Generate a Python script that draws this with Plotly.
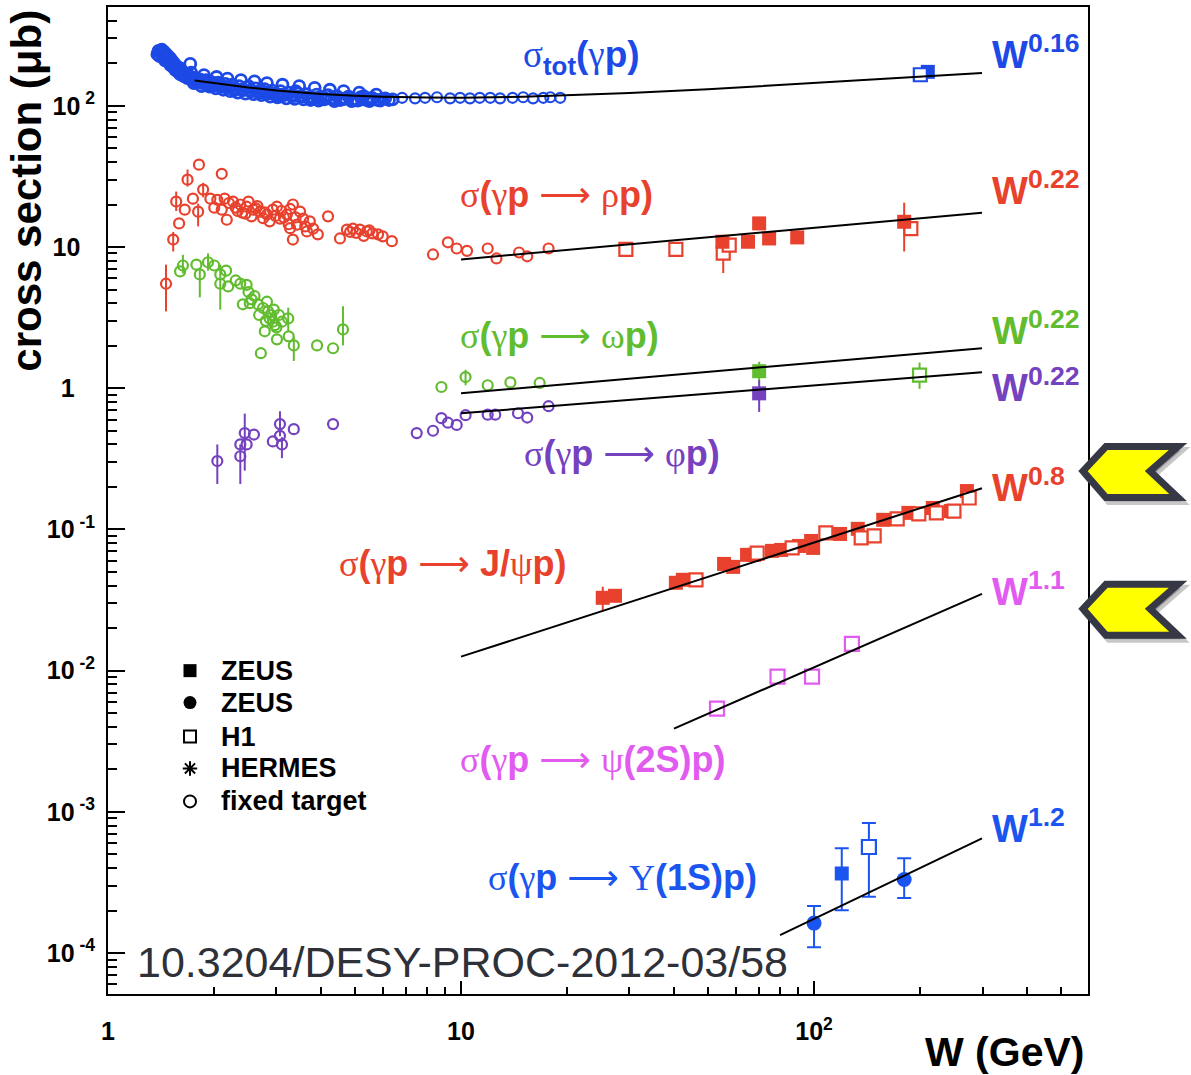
import math
import plotly.graph_objects as go

# ---------------- data (W in GeV, sigma in microbarn) ----------------
tot_ft_W = [1.38, 1.39, 1.40, 1.41, 1.42, 1.43, 1.44, 1.45, 1.46, 1.47, 1.48, 1.49, 1.50, 1.51, 1.52, 1.53, 1.54, 1.55, 1.56,
            1.58, 1.60, 1.62, 1.64, 1.66, 1.68, 1.71, 1.70, 1.73, 1.76, 1.79, 1.82, 1.85, 1.88, 1.92, 1.96, 2.00, 2.05,
            2.10, 2.15, 2.20, 2.25, 2.30, 2.35, 2.42, 2.48, 2.55, 2.62, 2.70, 2.78, 2.85, 2.92, 3.00, 3.08, 3.15, 3.25,
            3.35, 3.45, 3.55, 3.65, 3.78, 3.90, 4.00, 4.15, 4.30, 4.45, 4.60, 4.80, 5.00, 5.20, 5.40, 5.60, 5.80, 6.10,
            6.40, 1.75, 1.90, 2.08, 2.28, 2.50, 2.75, 3.05, 3.40, 3.80, 4.20, 4.70, 5.30]
tot_ft_s = [232, 245, 225, 238, 250, 228, 242, 220, 233, 212, 225, 205, 218, 196, 208, 188, 200, 180, 192,
            174, 168, 176, 162, 170, 157, 198, 163, 152, 158, 148, 154, 145, 151, 142, 148, 139, 146,
            136, 143, 134, 141, 131, 138, 129, 135, 127, 133, 124, 131, 122, 128, 120, 127, 119, 124,
            117, 123, 116, 121, 114, 120, 113, 118, 112, 117, 111, 116, 110, 115, 110, 114, 110, 113,
            111, 145, 152, 142, 129, 138, 126, 118, 127, 112, 119, 113, 117]
tot_ft3_W = [1.45, 1.50, 1.57, 1.63, 1.69, 1.77, 1.84, 1.94, 2.02, 2.12, 2.22, 2.33, 2.45, 2.58, 2.72, 2.88, 3.02, 3.20,
             3.38, 3.58, 3.75, 3.95, 4.10, 4.38, 4.55, 4.90, 5.10, 5.50, 5.90, 6.25]
tot_ft3_s = [210, 195, 183, 165, 160, 150, 138, 137, 133, 130, 127, 124, 122, 121, 119, 116, 115, 113,
             112, 111, 110, 109, 111, 108, 110, 108, 109, 108, 109, 110]
tot_ft4_W = [1.60, 1.72, 1.87, 2.03, 2.18, 2.38, 2.60, 2.82, 3.12, 3.48, 3.85, 4.25, 4.65, 5.15, 5.75]
tot_ft4_s = [185, 172, 165, 160, 156, 152, 149, 145, 141, 138, 134, 130, 127, 124, 120]
tot_ft5_W = [1.43, 1.47, 1.52, 1.56, 1.61, 1.65, 1.70, 1.78, 1.86, 1.95, 2.06, 2.16, 2.27, 2.40, 2.52, 2.67, 2.80, 2.95,
             3.10, 3.30, 3.50, 3.70, 3.92, 4.12, 4.40, 4.65, 4.95, 5.25, 5.60, 6.00]
tot_ft5_s = [240, 222, 204, 188, 172, 165, 158, 150, 147, 143, 139, 136, 133, 131, 128, 125, 124, 122,
             120, 118, 117, 115, 114, 113, 112, 112, 111, 111, 111, 112]
tot_ft2_W = [6.81, 7.41, 7.91, 8.55, 9.31, 9.94, 10.6, 11.3, 12.1, 12.9, 14.0, 15.0, 16.0, 17.1, 17.9, 19.1]
tot_ft2_s = [114, 113, 114, 115, 113, 114, 113, 114, 114, 113, 114, 115, 113, 114, 115, 114]
tot_h1_W, tot_h1_s = [200], [166]
tot_zeus_W, tot_zeus_s = [210], [174]
tot_fit_W = [1.76, 2.0, 2.5, 3.0, 4.0, 5.0, 6.0, 8.0, 10, 15, 20, 30, 50, 100, 200, 299]
tot_fit_s = [151, 144.6, 134.8, 128.5, 121.5, 117.9, 115.9, 114.4, 114.3, 116, 118.5, 123.2, 131, 144.6, 160, 170.5]

rho_ft_W = [1.59, 1.65, 1.81, 1.74, 1.95, 2.00, 2.04, 2.10, 2.10, 2.17, 2.14, 2.20, 2.26, 2.30, 2.37, 2.40, 2.47, 2.50,
            2.58, 2.55, 2.65, 2.70, 2.75, 2.82, 2.93, 3.01, 2.87, 3.07, 3.10, 3.21, 3.25, 3.34, 3.50, 3.57, 3.43, 3.73,
            3.66, 3.34, 3.81, 3.93, 4.20, 4.54, 4.75, 4.85, 4.94, 5.05, 5.17, 5.30, 5.41, 5.50, 5.61, 5.82, 6.00, 6.37,
            8.33, 9.18, 9.72, 10.4, 11.9, 12.6, 14.6, 15.4, 17.7,
            2.33, 2.45, 2.62, 2.78, 2.98, 3.15, 3.28, 3.40, 3.62, 3.28]
rho_ft_s = [14.7, 18.4, 38.3, 22.0, 22.0, 19.0, 21.6, 33.0, 18.4, 15.6, 22.0, 20.5, 21.0, 19.0, 20.0, 17.5, 19.3, 21.0,
            18.4, 16.5, 19.5, 17.8, 16.0, 17.0, 18.4, 19.3, 15.2, 15.9, 18.0, 17.0, 14.5, 20.0, 17.8, 15.9, 14.4, 15.2,
            12.9, 11.3, 13.5, 12.3, 16.5, 11.5, 13.3, 12.8, 13.5, 12.6, 13.3, 12.0, 12.9, 13.1, 12.5, 12.3, 11.9, 11.0,
            8.86, 10.8, 9.76, 9.4, 9.76, 8.3, 9.15, 8.6, 9.76,
            18.0, 17.2, 18.8, 17.6, 16.6, 16.2, 18.6, 16.2, 14.0, 13.6]
rho_fte_W = [1.46, 1.53, 1.56, 1.68, 1.80, 1.86]
rho_fte_s = [5.5, 11.3, 21.0, 30.0, 17.8, 25.5]
rho_fte_up = [2.0, 1.5, 3.7, 5.4, 2.5, 3.0]
rho_fte_dn = [2.0, 2.0, 3.0, 3.2, 3.8, 3.0]
rho_zeus_W = [55.0, 65.0, 69.9, 74.6, 89.6, 180]
rho_zeus_s = [10.9, 10.9, 14.7, 11.5, 11.7, 15.1]
rho_zeus_up = [0.5, 0.5, 1.0, 0.5, 0.5, 5.5]
rho_zeus_dn = [0.5, 0.5, 1.0, 0.5, 0.5, 5.8]
rho_h1_W = [29.3, 40.6, 55.3, 57.5, 188]
rho_h1_s = [9.64, 9.64, 9.04, 10.3, 13.5]
rho_h1_up = [0.4, 0.4, 2.9, 0.5, 1.0]
rho_h1_dn = [0.4, 0.4, 2.5, 0.5, 1.5]

om_ft_W = [1.60, 1.78, 2.00, 2.08, 2.16, 2.19, 2.30, 2.37, 2.47, 2.41, 2.50, 2.55, 2.60, 2.66, 2.75, 2.82, 2.84, 2.87,
           2.90, 2.93, 2.95, 2.78, 3.00, 3.01, 3.11, 3.25, 2.71, 3.91, 4.34, 8.8, 11.9, 13.8, 16.7,
           2.52, 2.68, 2.80, 2.97, 3.05]
om_ft_s = [6.72, 7.5, 7.4, 6.4, 6.8, 5.26, 5.8, 5.5, 5.4, 3.93, 4.8, 4.26, 4.5, 3.93, 3.7, 4.1, 3.5, 3.12,
           3.3, 2.96, 3.6, 2.53, 2.7, 2.22, 2.96, 2.33, 1.77, 2.01, 1.92, 1.02, 1.05, 1.10, 1.09,
           4.0, 3.3, 3.0, 2.8, 3.3]
om_fte_W = [1.63, 1.82, 1.92, 2.08, 3.24, 3.36, 4.63, 10.3]
om_fte_s = [7.4, 6.4, 7.8, 5.5, 3.12, 2.01, 2.61, 1.20]
om_fte_up = [1.4, 0.6, 1.2, 2.0, 0.6, 0.3, 1.2, 0.15]
om_fte_dn = [0.9, 2.0, 1.0, 1.9, 0.6, 0.45, 0.6, 0.15]
om_zeus_W, om_zeus_s, om_zeus_up, om_zeus_dn = [69.9], [1.32], [0.22], [0.20]
om_h1_W, om_h1_s, om_h1_up, om_h1_dn = [199], [1.24], [0.28], [0.25]

phi_ft_W = [2.37, 2.47, 2.59, 2.93, 3.07, 3.36, 4.34, 7.49, 8.33, 8.8, 9.18, 9.72, 10.3, 11.9, 12.5, 14.5, 15.4, 17.7]
phi_ft_s = [0.40, 0.40, 0.47, 0.42, 0.46, 0.513, 0.557, 0.481, 0.50, 0.614, 0.57, 0.55, 0.644, 0.65, 0.65, 0.665, 0.62, 0.746]
phi_fte_W = [2.04, 2.37, 2.44, 3.07, 3.11]
phi_fte_s = [0.305, 0.33, 0.481, 0.557, 0.40]
phi_fte_up = [0.095, 0.07, 0.18, 0.13, 0.05]
phi_fte_dn = [0.095, 0.12, 0.22, 0.10, 0.08]
phi_zeus_W, phi_zeus_s, phi_zeus_up, phi_zeus_dn = [69.9], [0.92], [0.22], [0.24]

jpsi_zeus_W = [25.2, 27.3, 40.6, 42.5, 55.6, 59.0, 64.6, 67.6, 76.0, 80.7, 90.7, 98.1, 99.4, 118.5, 133, 157, 185, 217, 244, 271]
jpsi_zeus_s = [0.0328, 0.0339, 0.0419, 0.0440, 0.0570, 0.0543, 0.0661, 0.0661, 0.0705, 0.0716, 0.0764, 0.0829, 0.0740,
               0.0929, 0.101, 0.117, 0.131, 0.142, 0.135, 0.187]
jpsi_zeus_err = [0.0065, 0.002, 0.002, 0.002, 0.003, 0.003, 0.003, 0.003, 0.003, 0.003, 0.003, 0.004, 0.004,
                 0.004, 0.005, 0.005, 0.006, 0.007, 0.007, 0.009]
jpsi_h1_W = [46.3, 69.0, 86.7, 108, 136, 148, 172, 198, 222, 249, 275]
jpsi_h1_s = [0.0440, 0.0680, 0.0740, 0.0945, 0.0871, 0.0900, 0.119, 0.129, 0.131, 0.135, 0.167]

psi2s_h1_W = [53.1, 78.8, 98.7, 128]
psi2s_h1_s = [0.00538, 0.00907, 0.00907, 0.0155]

ups_zeus_c_W, ups_zeus_c_s = [100, 180], [1.63e-4, 3.32e-4]
ups_zeus_c_up, ups_zeus_c_dn = [0.52e-4, 1.37e-4], [0.53e-4, 0.87e-4]
ups_zeus_sq_W, ups_zeus_sq_s, ups_zeus_sq_up, ups_zeus_sq_dn = [119.8], [3.66e-4], [1.86e-4], [1.65e-4]
ups_h1_W, ups_h1_s, ups_h1_up, ups_h1_dn = [143], [5.64e-4], [2.7e-4], [3.14e-4]

# power-law fit lines (end points)
rho_fit_W, rho_fit_s = [10, 299], [8.17, 17.5]
om_fit_W, om_fit_s = [10, 299], [0.922, 1.92]
phi_fit_W, phi_fit_s = [10, 299], [0.665, 1.30]
jpsi_fit_W, jpsi_fit_s = [10, 299], [0.01256, 0.196]
psi2s_fit_W, psi2s_fit_s = [40.1, 299], [0.00389, 0.035]
ups_fit_W, ups_fit_s = [80.1, 299], [1.34e-4, 6.5e-4]

x_ticks = [1, 10, 100]
x_ticktext = ["1", "10", "10<sup>2</sup>"]
y_ticks = [1e-4, 1e-3, 1e-2, 1e-1, 1, 10, 100]
y_ticktext = ["10<sup> -4</sup>", "10<sup> -3</sup>", "10<sup> -2</sup>", "10<sup> -1</sup>",
              "1<sup><span style='color:rgba(0,0,0,0)'> -1</span></sup>",
              "10<sup><span style='color:rgba(0,0,0,0)'> 2</span></sup>", "10<sup> 2</sup>"]
x_range_W = [1, 597]
y_range_s = [5.13e-5, 501]

legend_names = ["ZEUS", "ZEUS", "H1", "HERMES", "fixed target"]
legend_symbols = ["square", "circle", "square-open", "asterisk-open", "circle-open"]

# ---------------- styling ----------------
BLUE = "#1d4ae6"
RED = "#e8412d"
GREEN = "#62bc2f"
PURPLE = "#7441bf"
MAGENTA = "#e25bf0"
UPS = "#1b55f0"
FONT = "Liberation Sans"
SERIF = "Liberation Serif"

W_PX, H_PX = 1191, 1075
L, R, T, B = 108, 1088, 5, 994


def pxx(p):
    return (p - L) / (R - L)


def pxy(p):
    return (B - p) / (B - T)


def errs(up, dn, c, cap=0):
    return dict(type="data", symmetric=False, array=up, arrayminus=dn, color=c, thickness=2, width=cap)


fig = go.Figure()


def open_circ(Wv, sv, c, err=None, size=10, lw=2.2):
    fig.add_trace(go.Scatter(x=Wv, y=sv, mode="markers", showlegend=False,
                             marker=dict(symbol="circle-open", size=size, color=c, line=dict(width=lw, color=c)),
                             error_y=err))


def filled_sq(Wv, sv, c, err=None, size=13):
    fig.add_trace(go.Scatter(x=Wv, y=sv, mode="markers", showlegend=False,
                             marker=dict(symbol="square", size=size, color=c, line=dict(width=0)),
                             error_y=err))


def open_sq(Wv, sv, c, err=None, size=12):
    fig.add_trace(go.Scatter(x=Wv, y=sv, mode="markers", showlegend=False,
                             marker=dict(symbol="square", size=size, color="white", line=dict(width=2.2, color=c)),
                             error_y=err))


def fitline(Wv, sv):
    fig.add_trace(go.Scatter(x=Wv, y=sv, mode="lines", showlegend=False,
                             line=dict(color="black", width=2)))


# sigma_tot
for Wv, sv in ((tot_ft_W, tot_ft_s), (tot_ft3_W, tot_ft3_s), (tot_ft4_W, tot_ft4_s), (tot_ft5_W, tot_ft5_s)):
    open_circ(Wv, sv, BLUE, size=11, lw=2.8)
open_circ(tot_ft2_W, tot_ft2_s, BLUE)
filled_sq(tot_zeus_W, tot_zeus_s, BLUE, size=14)
open_sq(tot_h1_W, tot_h1_s, BLUE, size=13)

# rho
open_circ(rho_ft_W, rho_ft_s, RED)
open_circ(rho_fte_W, rho_fte_s, RED, errs(rho_fte_up, rho_fte_dn, RED))
open_sq(rho_h1_W, rho_h1_s, RED, errs(rho_h1_up, rho_h1_dn, RED), size=13)
filled_sq(rho_zeus_W, rho_zeus_s, RED, errs(rho_zeus_up, rho_zeus_dn, RED), size=14)

# omega
open_circ(om_ft_W, om_ft_s, GREEN)
open_circ(om_fte_W, om_fte_s, GREEN, errs(om_fte_up, om_fte_dn, GREEN))
filled_sq(om_zeus_W, om_zeus_s, GREEN, errs(om_zeus_up, om_zeus_dn, GREEN), size=14)
open_sq(om_h1_W, om_h1_s, GREEN, errs(om_h1_up, om_h1_dn, GREEN), size=13)

# phi
open_circ(phi_ft_W, phi_ft_s, PURPLE)
open_circ(phi_fte_W, phi_fte_s, PURPLE, errs(phi_fte_up, phi_fte_dn, PURPLE))
filled_sq(phi_zeus_W, phi_zeus_s, PURPLE, errs(phi_zeus_up, phi_zeus_dn, PURPLE), size=14)

# J/psi
filled_sq(jpsi_zeus_W, jpsi_zeus_s, RED, errs(jpsi_zeus_err, jpsi_zeus_err, RED), size=14)
open_sq(jpsi_h1_W, jpsi_h1_s, RED, size=13)

# psi(2S)
open_sq(psi2s_h1_W, psi2s_h1_s, MAGENTA, size=14)

# Upsilon
fig.add_trace(go.Scatter(x=ups_zeus_c_W, y=ups_zeus_c_s, mode="markers", showlegend=False,
                         marker=dict(symbol="circle", size=15, color=UPS),
                         error_y=errs(ups_zeus_c_up, ups_zeus_c_dn, UPS, cap=7)))
filled_sq(ups_zeus_sq_W, ups_zeus_sq_s, UPS, errs(ups_zeus_sq_up, ups_zeus_sq_dn, UPS, cap=7), size=14)
open_sq(ups_h1_W, ups_h1_s, UPS, errs(ups_h1_up, ups_h1_dn, UPS, cap=7), size=14)

# fit lines on top
fitline(tot_fit_W, tot_fit_s)
fitline(rho_fit_W, rho_fit_s)
fitline(om_fit_W, om_fit_s)
fitline(phi_fit_W, phi_fit_s)
fitline(jpsi_fit_W, jpsi_fit_s)
fitline(psi2s_fit_W, psi2s_fit_s)
fitline(ups_fit_W, ups_fit_s)

# legend block (hand-made, ROOT style): symbols on a hidden pixel-space overlay axis
LEG_X_SYM, LEG_X_TXT = 190, 219
LEG_Y = [670, 702, 736, 768, 801]
for sym, yv in zip(legend_symbols, LEG_Y):
    filled = not sym.endswith("open")
    fig.add_trace(go.Scatter(x=[LEG_X_SYM], y=[yv], xaxis="x2", yaxis="y2", mode="markers", showlegend=False,
                             marker=dict(symbol=sym, size=13 if filled else 12, color="black",
                                         line=dict(width=2 if not filled else 0, color="black"))))


def g(ch):
    return "<span style='font-family:%s'>%s</span>" % (SERIF, ch)


ARROW = "<span style='font-family:DejaVu Sans'>\u27f6</span>"
labels = [
    (g("σ") + "<sub><b>tot</b></sub><b>(</b>" + g("γ") + "<b>p)</b>", 521, 55, BLUE, 37),
    (g("σ") + "<b>(</b>" + g("γ") + "<b>p</b> " + ARROW + " " + g("ρ") + "<b>p)</b>", 458, 193, RED, 36),
    (g("σ") + "<b>(</b>" + g("γ") + "<b>p</b> " + ARROW + " " + g("ω") + "<b>p)</b>", 458, 334, GREEN, 36),
    (g("σ") + "<b>(</b>" + g("γ") + "<b>p</b> " + ARROW + " " + g("φ") + "<b>p)</b>", 522, 452, PURPLE, 36),
    (g("σ") + "<b>(</b>" + g("γ") + "<b>p</b> " + ARROW + " <b>J/</b>" + g("ψ") + "<b>p)</b>", 337, 563, RED, 36),
    (g("σ") + "<b>(</b>" + g("γ") + "<b>p</b> " + ARROW + " " + g("ψ") + "<b>(2S)p)</b>", 458, 759, MAGENTA, 36),
    (g("σ") + "<b>(</b>" + g("γ") + "<b>p</b> " + ARROW + " " + g("Υ") + "<b>(1S)p)</b>", 486, 877, UPS, 36),
]
exps = [("0.16", 50, BLUE), ("0.22", 186, RED), ("0.22", 327, GREEN), ("0.22", 384, PURPLE),
        ("0.8", 484, RED), ("1.1", 588, MAGENTA), ("1.2", 826, UPS)]

ann = []
for txt, xl, yc, c, fs in labels:
    ann.append(dict(text=txt, x=pxx(xl), y=pxy(yc), xref="paper", yref="paper", xanchor="left", yanchor="middle",
                    showarrow=False, font=dict(family=FONT, size=fs, color=c)))
for e, yc, c in exps:
    ann.append(dict(text="<b>W<sup>%s</sup></b>" % e, x=pxx(990), y=pxy(yc), xref="paper", yref="paper",
                    xanchor="left", yanchor="middle", showarrow=False, font=dict(family=FONT, size=38, color=c)))
for name, yv in zip(legend_names, LEG_Y):
    ann.append(dict(text="<b>%s</b>" % name, x=pxx(LEG_X_TXT), y=pxy(yv), xref="paper", yref="paper",
                    xanchor="left", yanchor="middle", showarrow=False, font=dict(family=FONT, size=27, color="black")))

ann.append(dict(text="<b>cross section (μb)</b>", textangle=-90, x=pxx(27), y=pxy(189), xref="paper", yref="paper",
                xanchor="center", yanchor="middle", showarrow=False, font=dict(family=FONT, size=42, color="black")))
ann.append(dict(text="<b>W (GeV)</b>", x=pxx(1086), y=pxy(1052), xref="paper", yref="paper",
                xanchor="right", yanchor="middle", showarrow=False, font=dict(family=FONT, size=41, color="black")))
ann.append(dict(text="10.3204/DESY-PROC-2012-03/58", x=pxx(462), y=pxy(962), xref="paper", yref="paper",
                xanchor="center", yanchor="middle", showarrow=False, font=dict(family=FONT, size=43, color="#2f3139")))


def chevron_path(cy, dx=0, dy=0):
    pts = [(1083, cy), (1106, cy - 24.5), (1178, cy - 24.5), (1150, cy), (1178, cy + 26.5), (1106, cy + 26.5)]
    return "M " + " L ".join("%.5f,%.5f" % (pxx(x + dx), pxy(y + dy)) for x, y in pts) + " Z"


shapes = []
for cy in (470, 608):
    shapes.append(dict(type="path", path=chevron_path(cy, 3, 4), xref="paper", yref="paper",
                       fillcolor="rgba(0,0,0,0.22)", line=dict(color="rgba(0,0,0,0.22)", width=7), layer="above"))
    shapes.append(dict(type="path", path=chevron_path(cy), xref="paper", yref="paper",
                       fillcolor="#ffff00", line=dict(color="#363846", width=7), layer="above"))


def minor_vals(lo_exp, hi_exp):
    return [m * 10 ** k for k in range(lo_exp, hi_exp) for m in range(2, 10)]


fig.update_layout(
    width=W_PX, height=H_PX, autosize=False,
    margin=dict(l=L, r=W_PX - R, t=T, b=H_PX - B, pad=0),
    paper_bgcolor="white", plot_bgcolor="white",
    showlegend=False,
    annotations=ann, shapes=shapes,
    xaxis=dict(type="log", range=[math.log10(x_range_W[0]), math.log10(x_range_W[1])],
               showgrid=False, zeroline=False, showline=True, linecolor="black", linewidth=2, mirror=True,
               ticks="inside", ticklen=13, tickwidth=2, tickcolor="black",
               tickmode="array", tickvals=x_ticks, ticktext=x_ticktext, ticklabelstandoff=14,
               tickfont=dict(family=FONT, size=25, color="black", weight="bold"),
               minor=dict(ticks="inside", ticklen=7, tickwidth=2, tickcolor="black", tickmode="array",
                          tickvals=minor_vals(0, 3), showgrid=False)),
    yaxis=dict(type="log", range=[math.log10(y_range_s[0]), math.log10(y_range_s[1])],
               showgrid=False, zeroline=False, showline=True, linecolor="black", linewidth=2, mirror=True,
               ticks="inside", ticklen=17, tickwidth=2, tickcolor="black",
               tickmode="array", tickvals=y_ticks, ticktext=y_ticktext, ticklabelstandoff=6,
               tickfont=dict(family=FONT, size=25, color="black", weight="bold"),
               minor=dict(ticks="inside", ticklen=9, tickwidth=2, tickcolor="black", tickmode="array",
                          tickvals=minor_vals(-5, 3), showgrid=False)),
    xaxis2=dict(overlaying="x", range=[L, R], visible=False, showgrid=False, zeroline=False),
    yaxis2=dict(overlaying="y", range=[B, T], visible=False, showgrid=False, zeroline=False),
)

fig.write_html("out.html")
